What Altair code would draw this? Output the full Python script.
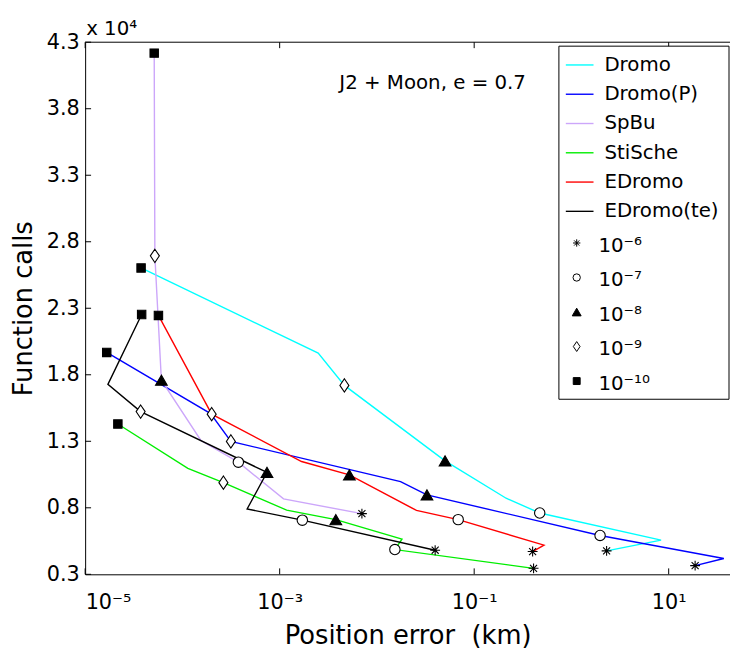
import altair as alt
import pandas as pd

# ---------------- data ----------------
series = ["Dromo", "Dromo(P)", "SpBu", "StiSche", "EDromo", "EDromo(te)"]
colors = ["#00FFFF", "#0000FF", "#CCA6FA", "#00EE00", "#FF0000", "#000000"]

tols = ["1e-6", "1e-7", "1e-8", "1e-9", "1e-10"]
tol_labels = ["10⁻⁶", "10⁻⁷", "10⁻⁸", "10⁻⁹", "10⁻¹⁰"]

# position error (km) / function calls (x 10^4) / tolerance marker at vertex
dromo_err = [3.76e-5, 2.49e-3, 4.63e-3, 0.0502, 0.213, 0.472, 8.35, 2.30]
dromo_calls = [2.603, 1.963, 1.720, 1.153, 0.872, 0.761, 0.557, 0.476]
dromo_tol = ["1e-10", "", "1e-9", "1e-8", "", "1e-7", "", "1e-6"]

dromop_err = [1.667e-5, 1.95e-4, 3.15e-4, 0.0175, 0.0327, 1.97, 36.9, 18.7]
dromop_calls = [1.968, 1.508, 1.299, 0.997, 0.897, 0.592, 0.419, 0.365]
dromop_tol = ["1e-10", "", "1e-9", "", "1e-8", "1e-7", "", "1e-6"]

spbu_err = [5.13e-5, 5.21e-5, 6.08e-5, 1.55e-4, 3.76e-4, 1.096e-3, 7.01e-3]
spbu_calls = [4.218, 2.694, 1.759, 1.306, 1.143, 0.867, 0.756]
spbu_tol = ["1e-10", "1e-9", "1e-8", "", "1e-7", "", "1e-6"]

stische_err = [2.17e-5, 1.138e-4, 2.64e-4, 1.18e-3, 3.78e-3, 0.0181, 0.0153, 0.408]
stische_calls = [1.430, 1.096, 0.989, 0.783, 0.711, 0.564, 0.486, 0.345]
stische_tol = ["1e-10", "", "1e-9", "", "1e-8", "", "1e-7", "1e-6"]

edromo_err = [5.67e-5, 2.0e-4, 1.68e-3, 5.21e-3, 0.0255, 0.0685, 0.522, 0.399]
edromo_calls = [2.246, 1.504, 1.148, 1.047, 0.780, 0.711, 0.519, 0.471]
edromo_tol = ["1e-10", "1e-9", "", "1e-8", "", "1e-7", "", "1e-6"]

edromote_err = [3.81e-5, 1.714e-5, 3.72e-5, 7.41e-4, 4.63e-4, 1.71e-3, 0.0397]
edromote_calls = [2.253, 1.728, 1.523, 1.066, 0.791, 0.707, 0.481]
edromote_tol = ["1e-10", "", "1e-9", "1e-8", "", "1e-7", "1e-6"]

x_ticks = [1e-5, 1e-3, 1e-1, 1e1]
x_tick_labels = ["10⁻⁵", "10⁻³", "10⁻¹", "10¹"]
y_ticks = [0.3, 0.8, 1.3, 1.8, 2.3, 2.8, 3.3, 3.8, 4.3]

annotation = "J2 + Moon, e = 0.7"
exponent_note = "x 10⁴"
x_title = "Position error\u00a0 (km)"
y_title = "Function calls"

# ---------------- tables ----------------
all_series = [
    (dromo_err, dromo_calls, dromo_tol),
    (dromop_err, dromop_calls, dromop_tol),
    (spbu_err, spbu_calls, spbu_tol),
    (stische_err, stische_calls, stische_tol),
    (edromo_err, edromo_calls, edromo_tol),
    (edromote_err, edromote_calls, edromote_tol),
]
rows = []
for name, (xs, ys, ts) in zip(series, all_series):
    for i, (xv, yv, tv) in enumerate(zip(xs, ys, ts)):
        rows.append({"series": name, "i": i, "err": xv, "calls": yv, "tol": tv})
df = pd.DataFrame(rows)
df_m = df[df["tol"] != ""].copy()

FONT = "DejaVu Sans"
W, H = 652, 538

star_path = "M-1,0L1,0M0,-1L0,1M-0.71,-0.71L0.71,0.71M-0.71,0.71L0.71,-0.71"
diamond_path = "M0,-1L0.68,0L0,1L-0.68,0Z"
shape_scale = alt.Scale(domain=tols, range=[star_path, "circle", "triangle-up", diamond_path, "square"])
fill_scale = alt.Scale(domain=tols, range=["black", "white", "black", "white", "black"])
color_scale = alt.Scale(domain=series, range=colors)

x_expr = ("datum.value < 1e-4 ? '%s' : datum.value < 1e-2 ? '%s' : datum.value < 1 ? '%s' : '%s'"
          % tuple(x_tick_labels))

x_enc = alt.X("err:Q",
              scale=alt.Scale(type="log", domain=[1e-5, 42.7], nice=False),
              axis=alt.Axis(values=x_ticks, labelExpr=x_expr, title=x_title,
                            labelPadding=18, titlePadding=10, labelBaseline="top"))
y_enc = alt.Y("calls:Q",
              scale=alt.Scale(domain=[0.3, 4.3], nice=False, zero=False),
              axis=alt.Axis(values=y_ticks, format=".1f", title=y_title,
                            labelPadding=6, titlePadding=10))

lines = alt.Chart(df).mark_line(strokeWidth=1.4).encode(
    x=x_enc, y=y_enc,
    color=alt.Color("series:N", scale=color_scale, legend=None),
    detail="series:N",
    order="i:Q",
)

markers = alt.Chart(df_m).mark_point(filled=True, stroke="black", strokeWidth=1.1, opacity=1).encode(
    x=x_enc, y=y_enc,
    shape=alt.Shape("tol:N", scale=shape_scale, legend=None),
    fill=alt.Fill("tol:N", scale=fill_scale, legend=None),
    size=alt.Size("tol:N", scale=alt.Scale(type="ordinal", domain=tols,
                                          range=[100, 110, 140, 180, 72]), legend=None),
)

df_yt = pd.DataFrame({"calls": y_ticks})
df_xt = pd.DataFrame({"err": x_ticks})
yticks_in = alt.Chart(df_yt).mark_rule(color="black", strokeWidth=1).encode(
    y=y_enc, x=alt.value(0), x2=alt.value(6))
xticks_bottom = alt.Chart(df_xt).mark_rule(color="black", strokeWidth=1).encode(
    x=x_enc, y=alt.value(H), y2=alt.value(H - 6))
xticks_top = alt.Chart(df_xt).mark_rule(color="black", strokeWidth=1).encode(
    x=x_enc, y=alt.value(0), y2=alt.value(6))
top_border = alt.Chart(pd.DataFrame({"a": [0]})).mark_rule(color="black", strokeWidth=1).encode(
    x=alt.value(0), x2=alt.value(W), y=alt.value(0))

note = alt.Chart(pd.DataFrame({"t": [annotation]})).mark_text(
    align="left", baseline="middle", font=FONT, fontSize=20, color="black").encode(
    x=alt.value(257), y=alt.value(41), text="t:N")
expo = alt.Chart(pd.DataFrame({"t": [exponent_note]})).mark_text(
    align="left", baseline="middle", font=FONT, fontSize=20, color="black").encode(
    x=alt.value(1), y=alt.value(-13), text="t:N")

# ---------------- legend (drawn as marks) ----------------
leg_box = alt.Chart(pd.DataFrame({"a": [0]})).mark_rect(
    fill="white", stroke="black", strokeWidth=1).encode(
    x=alt.value(479), x2=alt.value(651), y=alt.value(4), y2=alt.value(361))

df_ll = pd.DataFrame({"series": series, "ly": [23 + 29.6 * k for k in range(len(series))]})
leg_lines = alt.Chart(df_ll).mark_rule(strokeWidth=1.4).encode(
    x=alt.value(486), x2=alt.value(514),
    y=alt.Y("ly:Q", scale=None, axis=None),
    color=alt.Color("series:N", scale=color_scale, legend=None))
leg_text = alt.Chart(df_ll).mark_text(align="left", baseline="middle", font=FONT,
                                      fontSize=20, color="black").encode(
    x=alt.value(525), y=alt.Y("ly:Q", scale=None, axis=None), text="series:N")

df_lm = pd.DataFrame({"tol": tols, "tol2": tols, "label": tol_labels,
                      "ly": [203 + 34.9 * k for k in range(len(tols))]})
leg_pts = alt.Chart(df_lm).mark_point(filled=True, stroke="black", strokeWidth=1, opacity=1).encode(
    x=alt.value(497), y=alt.Y("ly:Q", scale=None, axis=None),
    shape=alt.Shape("tol:N", scale=shape_scale, legend=None),
    fill=alt.Fill("tol:N", scale=fill_scale, legend=None),
    size=alt.Size("tol2:N", scale=alt.Scale(type="ordinal", domain=tols,
                                           range=[55, 55, 81, 100, 49]), legend=None))
leg_mtext = alt.Chart(df_lm).mark_text(align="left", baseline="middle", font=FONT,
                                       fontSize=20, color="black", dy=3).encode(
    x=alt.value(519), y=alt.Y("ly:Q", scale=None, axis=None), text="label:N")

chart = alt.layer(
    lines, markers, yticks_in, xticks_bottom, xticks_top, top_border, note, expo,
    leg_box, leg_lines, leg_text, leg_pts, leg_mtext,
).resolve_scale(size="independent").properties(
    width=W, height=H,
    autosize=alt.AutoSizeParams(type="none"),
    padding={"left": 78, "top": 31, "right": 0, "bottom": 79},
    background="white",
).configure_view(stroke=None).configure_axis(
    domainColor="black", domainWidth=1, ticks=False, tickSize=0, grid=False,
    labelFont=FONT, labelFontSize=21, labelColor="black",
    titleFont=FONT, titleFontSize=26, titleFontWeight="normal", titleColor="black",
)

chart.save("out.html", embed_options={"renderer": "svg", "actions": False})
